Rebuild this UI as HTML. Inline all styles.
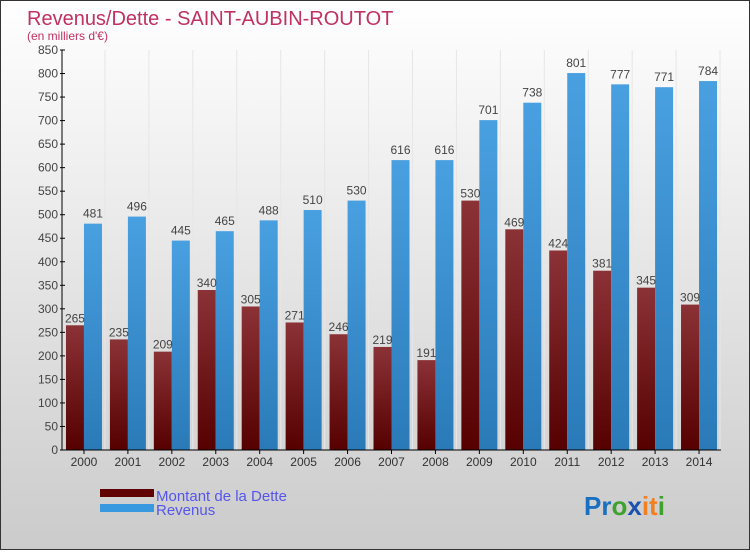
<!DOCTYPE html>
<html><head><meta charset="utf-8"><style>
html,body{margin:0;padding:0}
body{width:750px;height:550px;overflow:hidden;font-family:"Liberation Sans",sans-serif}
#wrap{position:absolute;left:0;top:0;width:748px;height:548px;border:1px solid #333;background:linear-gradient(#ffffff,#cbcbcb)}
</style></head><body>
<div id="wrap">
<svg id="chart" width="748" height="548" xmlns="http://www.w3.org/2000/svg">
<defs>
<linearGradient id="gd" x1="0" y1="0" x2="0" y2="1"><stop offset="0" stop-color="#8b3236"/><stop offset="1" stop-color="#560000"/></linearGradient>
<linearGradient id="gr" x1="0" y1="0" x2="0" y2="1"><stop offset="0" stop-color="#49a0e0"/><stop offset="1" stop-color="#2a7ab8"/></linearGradient>
</defs>
<text x="26" y="24" font-size="20" fill="#c03060">Revenus/Dette - SAINT-AUBIN-ROUTOT</text>
<text x="26" y="39" font-size="12" fill="#c03060">(en milliers d'€)</text>
<g id="grid"></g><g id="bars"></g><g id="axes"></g>
<g>
<rect x="99" y="488" width="54" height="8" fill="#600000"/>
<text x="155" y="500" font-size="15" fill="#5555ee">Montant de la Dette</text>
<rect x="99" y="503" width="54" height="8" fill="#3898e0"/>
<text x="155" y="514" font-size="15" fill="#5555ee">Revenus</text>
</g>
<text x="583" y="514" font-size="26" font-weight="bold"><tspan fill="#1a70c0">Pr</tspan><tspan fill="#40a030">o</tspan><tspan fill="#1a50b0">x</tspan><tspan fill="#f08020">it</tspan><tspan fill="#40a030">i</tspan></text>
</svg></div>
<script>
const years=["2000","2001","2002","2003","2004","2005","2006","2007","2008","2009","2010","2011","2012","2013","2014"];
const debt=[265,235,209,340,305,271,246,219,191,530,469,424,381,345,309];
const revenus=[481,496,445,465,488,510,530,616,616,701,738,801,777,771,784];
const yTicks=[0,50,100,150,200,250,300,350,400,450,500,550,600,650,700,750,800,850];
const NS="http://www.w3.org/2000/svg";
const X0=61,X1=720,Y0=449,Y1=49,MAX=850;
const step=(X1-X0)/years.length;
function y(v){return Y0-(v/MAX)*(Y0-Y1);}
function xc(i){return X0+step*(i+0.5);}
function mk(tag,attrs,parent){const e=document.createElementNS(NS,tag);for(const k in attrs)e.setAttribute(k,attrs[k]);parent.appendChild(e);return e;}
const grid=document.getElementById('grid'),bars=document.getElementById('bars'),axes=document.getElementById('axes');
years.forEach((yr,i)=>{
  const c=xc(i);
  const sep=mk('line',{x1:c+21,x2:c+21,y1:Y1,y2:Y0,stroke:'#e6e6e6','stroke-width':1},grid);
  
  
  const d=mk('rect',{x:c-18,y:y(debt[i]),width:18,height:Y0-y(debt[i]),fill:'url(#gd)'},bars);
  
  
  const r=mk('rect',{x:c,y:y(revenus[i]),width:18,height:Y0-y(revenus[i]),fill:'url(#gr)'},bars);
  
  
  const dl=mk('text',{x:c-9,y:y(debt[i])-3,'font-size':12,fill:'#444','text-anchor':'middle'},bars);
  dl.textContent=debt[i];
  
  
  const rl=mk('text',{x:c+9,y:y(revenus[i])-6,'font-size':12,fill:'#444','text-anchor':'middle'},bars);
  rl.textContent=revenus[i];
  
  
  const xl=mk('text',{x:c,y:Y0+16,'font-size':12,fill:'#333','text-anchor':'middle'},axes);
  xl.textContent=yr;
  
  
  const tk=mk('line',{x1:c,x2:c,y1:Y0,y2:Y0+4,stroke:'#000'},axes);
  
  
});
yTicks.forEach(v=>{
  const t=mk('text',{x:X0-4,y:y(v)+4,'font-size':12,fill:'#444','text-anchor':'end'},axes);
  t.textContent=v;
  
  
  const l=mk('line',{x1:X0-2,x2:X0+3,y1:y(v),y2:y(v),stroke:'#000'},axes);
  
  
});
const ya=mk('line',{x1:X0,x2:X0,y1:Y1,y2:Y0,stroke:'#000'},axes);


const xa=mk('line',{x1:X0,x2:X1,y1:Y0,y2:Y0,stroke:'#000'},axes);


</script>
</body></html>
